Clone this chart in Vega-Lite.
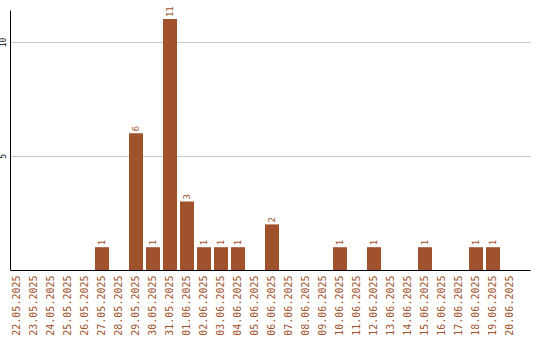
{
  "$schema": "https://vega.github.io/schema/vega-lite/v6.json",
  "width": 520,
  "height": 260,
  "autosize": {"type": "none"},
  "padding": {"left": 10, "top": 10, "right": 10, "bottom": 70},
  "background": "white",
  "config": {"view": {"stroke": null}, "font": "DejaVu Sans Mono"},
  "data": {
    "values": [
      {"date": "22.05.2025", "count": 0},
      {"date": "23.05.2025", "count": 0},
      {"date": "24.05.2025", "count": 0},
      {"date": "25.05.2025", "count": 0},
      {"date": "26.05.2025", "count": 0},
      {"date": "27.05.2025", "count": 1},
      {"date": "28.05.2025", "count": 0},
      {"date": "29.05.2025", "count": 6},
      {"date": "30.05.2025", "count": 1},
      {"date": "31.05.2025", "count": 11},
      {"date": "01.06.2025", "count": 3},
      {"date": "02.06.2025", "count": 1},
      {"date": "03.06.2025", "count": 1},
      {"date": "04.06.2025", "count": 1},
      {"date": "05.06.2025", "count": 0},
      {"date": "06.06.2025", "count": 2},
      {"date": "07.06.2025", "count": 0},
      {"date": "08.06.2025", "count": 0},
      {"date": "09.06.2025", "count": 0},
      {"date": "10.06.2025", "count": 1},
      {"date": "11.06.2025", "count": 0},
      {"date": "12.06.2025", "count": 1},
      {"date": "13.06.2025", "count": 0},
      {"date": "14.06.2025", "count": 0},
      {"date": "15.06.2025", "count": 1},
      {"date": "16.06.2025", "count": 0},
      {"date": "17.06.2025", "count": 0},
      {"date": "18.06.2025", "count": 1},
      {"date": "19.06.2025", "count": 1},
      {"date": "20.06.2025", "count": 0}
    ]
  },
  "encoding": {
    "x": {
      "field": "date",
      "type": "ordinal",
      "sort": null,
      "scale": {"paddingInner": 0.176, "paddingOuter": 0.382, "align": 0},
      "axis": {
        "title": null,
        "ticks": false,
        "labelAngle": 270,
        "labelFontSize": 10,
        "labelColor": "#A0522D",
        "labelPadding": 5,
        "labelOverlap": false,
        "domainColor": "black",
        "grid": false
      }
    },
    "y": {
      "field": "count",
      "type": "quantitative",
      "scale": {"domain": [0, 11.4], "nice": false},
      "axis": {
        "title": null,
        "values": [5, 10],
        "ticks": false,
        "labelAngle": 270,
        "labelFontSize": 8,
        "labelColor": "black",
        "labelPadding": 3,
        "domainColor": "black",
        "gridColor": "#c8c8c8"
      }
    }
  },
  "layer": [
    {"mark": {"type": "bar", "color": "#A0522D"}},
    {
      "transform": [{"filter": "datum.count > 0"}],
      "mark": {"type": "text", "angle": 270, "align": "left", "baseline": "middle", "dx": 2, "fontSize": 9, "color": "#A0522D"},
      "encoding": {"text": {"field": "count", "type": "quantitative"}}
    }
  ]
}
